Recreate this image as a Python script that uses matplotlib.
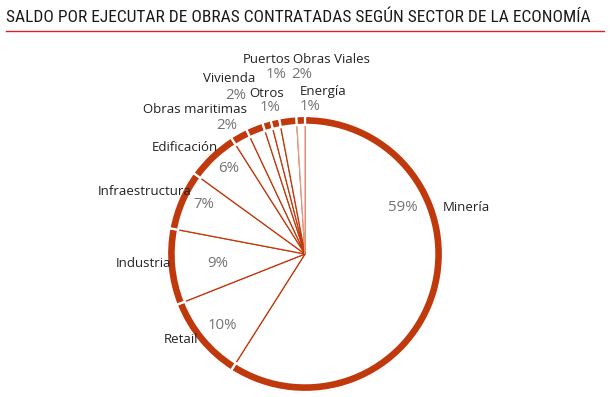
import matplotlib.pyplot as plt

title = 'SALDO POR EJECUTAR DE OBRAS CONTRATADAS SEGÚN SECTOR DE LA ECONOMÍA'
sectors = ['Minería', 'Retail', 'Industria', 'Infraestructura', 'Edificación',
           'Obras maritimas', 'Vivienda', 'Otros', 'Puertos', 'Obras Viales', 'Energía']
shares = [59, 10, 9, 7, 6, 2, 2, 1, 1, 2, 1]

# label placement (radius units, pie centred at 0,0)
name_pos = [(1.17, 0.34), (-0.90, -0.62), (-1.17, -0.07), (-1.16, 0.45), (-0.87, 0.77),
            (-0.80, 1.05), (-0.55, 1.27), (-0.28, 1.16), (-0.28, 1.41), (0.19, 1.41), (0.13, 1.18)]
pct_pos = [(0.71, 0.34), (-0.60, -0.52), (-0.63, -0.07), (-0.73, 0.36), (-0.55, 0.62),
           (-0.57, 0.93), (-0.50, 1.15), (-0.25, 1.06), (-0.21, 1.30), (-0.02, 1.30), (0.04, 1.07)]

red = '#c0390c'
light = '#e89c86'

plt.rcParams['font.family'] = ['Open Sans', 'DejaVu Sans']

fig = plt.figure(figsize=(6.1, 3.97), dpi=100)
ax = fig.add_axes([0, 0, 1, 1])

edges = [red] * (len(shares) - 1) + [light]
wedges, _ = ax.pie(shares, startangle=90, counterclock=False, radius=1.0,
                   colors=['white'] * len(shares),
                   wedgeprops=dict(linewidth=0.9))
for w, ec in zip(wedges, edges):
    w.set_edgecolor(ec)

ax.pie(shares, startangle=90, counterclock=False, radius=1.0,
       colors=[red] * len(shares),
       wedgeprops=dict(width=0.064, edgecolor='white', linewidth=1.6))

for name, pct, npos, ppos in zip(sectors, shares, name_pos, pct_pos):
    ax.text(npos[0], npos[1], name, ha='center', va='center', fontsize=9.5, color='#222222')
    ax.text(ppos[0], ppos[1], f'{pct}%', ha='center', va='center', fontsize=10.8,
            color='#727272')

ax.set_xlim(-305 / 138, 305 / 138)
ax.set_ylim((254 - 397) / 138, 254 / 138)
ax.set_aspect('auto')
ax.axis('off')

fig.text(6 / 610, 1 - 17 / 397, title, ha='left', va='center', fontsize=12.5,
         color='#1a1a1a', family=['Roboto Condensed', 'Roboto', 'DejaVu Sans'])
fig.add_artist(plt.Line2D([6 / 610, 604 / 610], [1 - 31 / 397, 1 - 31 / 397],
                          color='#e02020', linewidth=1.0))

fig.savefig('out.png', dpi=100)
